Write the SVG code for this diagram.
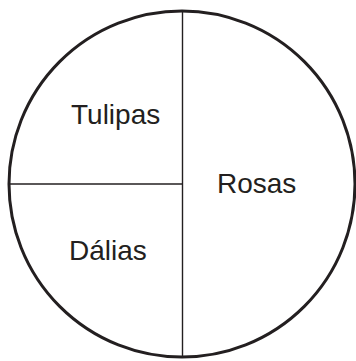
<svg xmlns="http://www.w3.org/2000/svg" width="356" height="361" viewBox="0 0 356 361">
<style>
.lbl{font-family:"Liberation Sans",Arial,sans-serif;font-size:28px;fill:#231f20}
.div{stroke:#231f20;stroke-width:1.4;fill:none}
</style>
<rect width="356" height="361" fill="#fff"/>
<g id="pie">
<circle cx="182" cy="184" r="173" fill="none" stroke="#231f20" stroke-width="3"/>
</g>
<g id="connectors">
<line class="div" x1="182.5" y1="11" x2="182.5" y2="357"/>
<line class="div" x1="9" y1="184" x2="182.5" y2="184"/>
</g>
<g id="tulipas"><text class="lbl" x="71" y="124">Tulipas</text></g>
<g id="dalias"><text class="lbl" x="69" y="260">Dálias</text></g>
<g id="rosas"><text class="lbl" x="217" y="193">Rosas</text></g>
</svg>
